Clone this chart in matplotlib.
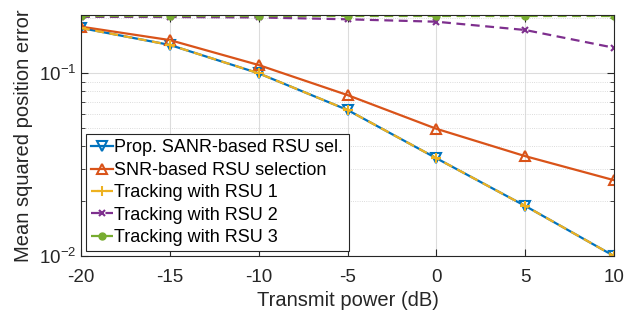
import matplotlib
matplotlib.use("Agg")
import matplotlib.pyplot as plt
from matplotlib.ticker import LogLocator, NullFormatter

power_db = [-20, -15, -10, -5, 0, 5, 10]
prop_sanr = [0.177, 0.143, 0.100, 0.063, 0.0343, 0.0188, 0.0100]
snr_sel = [0.180, 0.152, 0.111, 0.076, 0.0497, 0.0352, 0.0260]
rsu1 = [0.177, 0.143, 0.100, 0.063, 0.0343, 0.0188, 0.0100]
rsu2 = [0.2037, 0.2033, 0.2022, 0.1975, 0.1916, 0.1726, 0.138]
rsu3 = [0.2051, 0.2051, 0.2051, 0.2051, 0.2051, 0.2051, 0.2051]

labels = ["Prop. SANR-based RSU sel.", "SNR-based RSU selection",
          "Tracking with RSU 1", "Tracking with RSU 2", "Tracking with RSU 3"]

plt.rcParams['font.family'] = ['Liberation Sans', 'DejaVu Sans']

fig = plt.figure(figsize=(6.41, 3.22), dpi=100)
ax = fig.add_axes([81/641, 1-256/322, (614-81)/641, (256-15)/322])

lw = 1.6
ax.plot(power_db, prop_sanr, color='#0072BD', lw=lw, ls='-', marker='v', ms=6.5,
        mfc='none', mew=1.5, label=labels[0])
ax.plot(power_db, snr_sel, color='#D95319', lw=lw, ls='-', marker='^', ms=7.5,
        mfc='none', mew=1.5, label=labels[1])
ax.plot(power_db, rsu1, color='#EDB120', lw=lw, ls=(0, (4, 2.5)), marker='+', ms=7,
        mew=1.5, label=labels[2])
ax.plot(power_db, rsu2, color='#7E2F8E', lw=lw, ls=(0, (4, 2.5)), marker='x', ms=5,
        mew=1.5, label=labels[3])
ax.plot(power_db, rsu3, color='#77AC30', lw=lw, ls=(0, (4, 2.5)), marker='o', ms=5,
        label=labels[4])

ax.set_yscale('log')
ax.set_xlim(-20, 10)
ax.set_ylim(0.01, 0.2085)
ax.set_xticks(power_db)
ax.set_xticklabels([str(v) for v in power_db])
ax.yaxis.set_major_locator(LogLocator(base=10, numticks=10))
ax.yaxis.set_minor_locator(LogLocator(base=10, subs=range(2, 10), numticks=20))
ax.yaxis.set_minor_formatter(NullFormatter())

ax.grid(True, which='major', color='#dcdcdc', lw=0.8, ls='-')
ax.grid(True, which='minor', axis='y', color='#d0d0d0', lw=0.6, ls=':')
ax.set_axisbelow(True)

for s in ax.spines.values():
    s.set_color('#262626')
    s.set_linewidth(0.8)
ax.tick_params(which='both', direction='in', top=True, right=True, colors='#262626',
               labelsize=13.5)
ax.tick_params(which='major', length=5)
ax.tick_params(which='minor', length=3)
ax.tick_params(axis='x', which='minor', bottom=False, top=False)
ax.tick_params(axis='x', which='major', pad=9)

ax.set_xlabel('Transmit power (dB)', fontsize=14.5, color='#262626', labelpad=4)
ax.set_ylabel('Mean squared position error', fontsize=14.5, color='#262626', labelpad=4)

leg = ax.legend(loc='lower left', fontsize=13, frameon=True, fancybox=False,
                edgecolor='#262626', framealpha=1, borderpad=0.3, labelspacing=0.3,
                handlelength=1.2, handletextpad=0.1, borderaxespad=0.25)
leg.get_frame().set_linewidth(0.8)

fig.savefig('out.png', dpi=100)
